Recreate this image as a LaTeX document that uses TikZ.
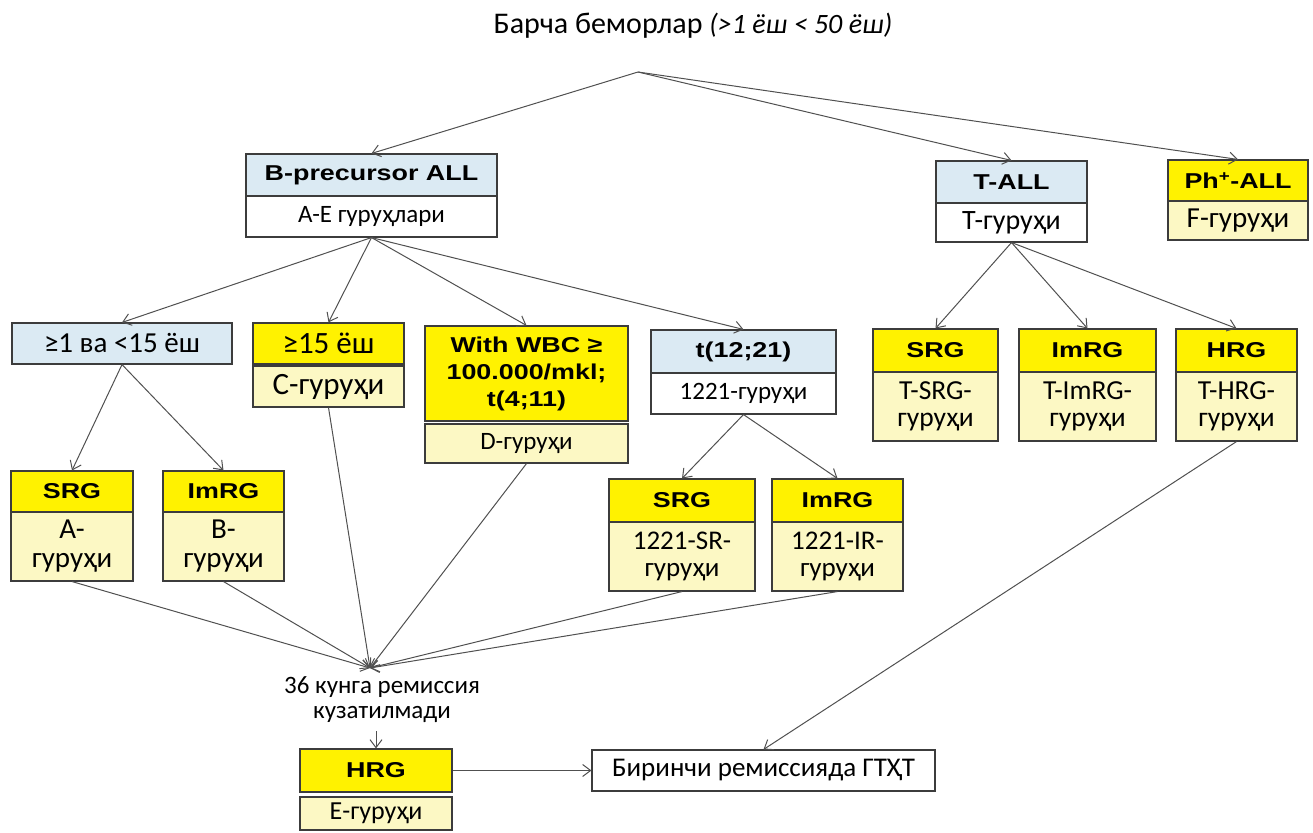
\documentclass[tikz,border=0pt]{standalone}
\usepackage{fontspec}
\setmainfont{Carlito}
\newfontfamily\hdfont[FakeStretch=1.25]{Liberation Sans}
\usetikzlibrary{arrows.meta}
\usetikzlibrary{calc}
\definecolor{hdblue}{RGB}{219,234,243}
\definecolor{hdyellow}{RGB}{255,242,0}
\definecolor{paleyellow}{RGB}{252,248,196}
\definecolor{edgegray}{RGB}{60,60,60}
\definecolor{arrgray}{RGB}{80,80,80}
\newcommand{\fs}[1]{\fontsize{#1}{#1}\selectfont}
\tikzset{
    cell/.style={draw=edgegray,line width=1.1pt,inner sep=0pt,align=center,font=\fs{25}},
    bluecell/.style={cell,fill=hdblue},
    yelcell/.style={cell,fill=hdyellow},
    palecell/.style={cell,fill=paleyellow},
    whitecell/.style={cell,fill=white},
    hd/.style={font=\hdfont\bfseries\fontsize{21.5}{27}\selectfont},
    arr/.style={draw=arrgray,line width=1pt,-{Straight Barb[length=8pt,width=12pt]}},
}

\begin{document}
\begin{tikzpicture}[x=1pt,y=-1pt]
\useasboundingbox (0,0) rectangle (1313,832);
\node (title) at (693,26) {\fs{30}Барча беморлар \textit{\fs{28}(>1 ёш < 50 ёш)}};
\coordinate (apex) at (638,72);
% first level
\node[bluecell,hd,minimum width=251pt,minimum height=42pt] (bhead) at (371.5,175) {B-precursor ALL};
\node[whitecell,minimum width=251pt,minimum height=41pt] (bbody) at (371.5,216.5) {А-Е гуруҳлари};
\node[bluecell,hd,minimum width=151pt,minimum height=42pt] (thead) at (1011.5,182) {T-ALL};
\node[whitecell,minimum width=151pt,minimum height=39pt,font=\fs{28}] (tbody) at (1011.5,222.5) {Т-гуруҳи};
\node[yelcell,hd,minimum width=140pt,minimum height=41pt] (phhead) at (1238,180.5) {Ph\textsuperscript{+}-ALL};
\node[palecell,minimum width=140pt,minimum height=39pt,font=\fs{29}] (phbody) at (1238,220.5) {F-гуруҳи};
% B-precursor branches
\node[bluecell,minimum width=220pt,minimum height=41pt,font=\fs{29}] (age) at (122,343.5) {≥1 ва <15 ёш};
\node[yelcell,minimum width=151pt,minimum height=41pt,font=\fs{31}] (chead) at (328.5,343.5) {≥15 ёш};
\node[palecell,minimum width=151pt,minimum height=41pt,font=\fs{31}] (cbody) at (328.5,386.5) {С-гуруҳи};
\node[yelcell,hd,minimum width=203pt,minimum height=95pt] (dhead) at (526.5,373.5) {With WBC ≥\\100.000/mkl;\\t(4;11)};
\node[palecell,minimum width=203pt,minimum height=39pt] (dbody) at (526.5,443.5) {D-гуруҳи};
\node[bluecell,hd,minimum width=185pt,minimum height=43pt] (thead2) at (743.5,351.5) {t(12;21)};
\node[whitecell,minimum width=185pt,minimum height=41pt] (tbody2) at (743.5,393.5) {1221-гуруҳи};
\node[yelcell,hd,minimum width=122pt,minimum height=41pt] (ahead) at (72,491.5) {SRG};
\node[palecell,minimum width=122pt,minimum height=69pt,font=\fs{29}] (abody) at (72,546.5) {А-\\гуруҳи};
\node[yelcell,hd,minimum width=121pt,minimum height=41pt] (bimhead) at (223.5,491.5) {ImRG};
\node[palecell,minimum width=121pt,minimum height=69pt,font=\fs{29}] (bimbody) at (223.5,546.5) {В-\\гуруҳи};
\node[yelcell,hd,minimum width=146pt,minimum height=43pt] (srhead) at (682,500.5) {SRG};
\node[palecell,minimum width=146pt,minimum height=69pt,font=\fs{27}] (srbody) at (682,556.5) {1221-SR-\\гуруҳи};
\node[yelcell,hd,minimum width=131pt,minimum height=43pt] (irhead) at (837.5,500.5) {ImRG};
\node[palecell,minimum width=131pt,minimum height=69pt,font=\fs{27}] (irbody) at (837.5,556.5) {1221-IR-\\гуруҳи};
% T-ALL branches
\node[yelcell,hd,minimum width=125pt,minimum height=43pt] (tsrhead) at (935.5,350.5) {SRG};
\node[palecell,minimum width=125pt,minimum height=69pt,font=\fs{27.5}] (tsrbody) at (935.5,406.5) {T-SRG-\\гуруҳи};
\node[yelcell,hd,minimum width=137pt,minimum height=43pt] (timhead) at (1087.5,350.5) {ImRG};
\node[palecell,minimum width=137pt,minimum height=69pt,font=\fs{27.5}] (timbody) at (1087.5,406.5) {T-ImRG-\\гуруҳи};
\node[yelcell,hd,minimum width=121pt,minimum height=43pt] (thrhead) at (1236.5,350.5) {HRG};
\node[palecell,minimum width=121pt,minimum height=69pt,font=\fs{27.5}] (thrbody) at (1236.5,406.5) {T-HRG-\\гуруҳи};
% bottom
\coordinate (conv) at (370,668);
\node[align=center,inner sep=0pt,font=\fs{25}] (remis) at (382,700) {36 кунга ремиссия\\кузатилмади};
\node[yelcell,hd,minimum width=152pt,minimum height=43pt] (ehead) at (376,770.5) {HRG};
\node[palecell,minimum width=152pt,minimum height=33pt,font=\fs{26}] (ebody) at (376,813.5) {Е-гуруҳи};
\node[whitecell,minimum width=343pt,minimum height=41pt,font=\fs{27}] (sct) at (763.5,770.5) {Биринчи ремиссияда ГТҲТ};

\draw[arr] (apex) -- (bhead.north);
\draw[arr] (apex) -- (thead.north);
\draw[arr] (apex) -- (phhead.north);
\foreach \n in {age,chead,dhead,thead2}
  \draw[arr] (bbody.south) -- (\n.north);
\draw[arr] (age.south) -- (ahead.north);
\draw[arr] (age.south) -- (bimhead.north);
\draw[arr] (tbody2.south) -- (srhead.north);
\draw[arr] (tbody2.south) -- (irhead.north);
\foreach \n in {tsrhead,timhead,thrhead}
  \draw[arr] (tbody.south) -- (\n.north);
\foreach \n in {abody,bimbody,cbody,dbody,srbody,irbody}
  \draw[arr] (\n.south) -- (conv);
\draw[arr] ([yshift=-8pt]remis.south -| ehead.north) -- (ehead.north);
\draw[arr] (ehead.east) -- (sct.west);
\draw[arr] (thrbody.south) -- (sct.north);
\end{tikzpicture}
\end{document}
